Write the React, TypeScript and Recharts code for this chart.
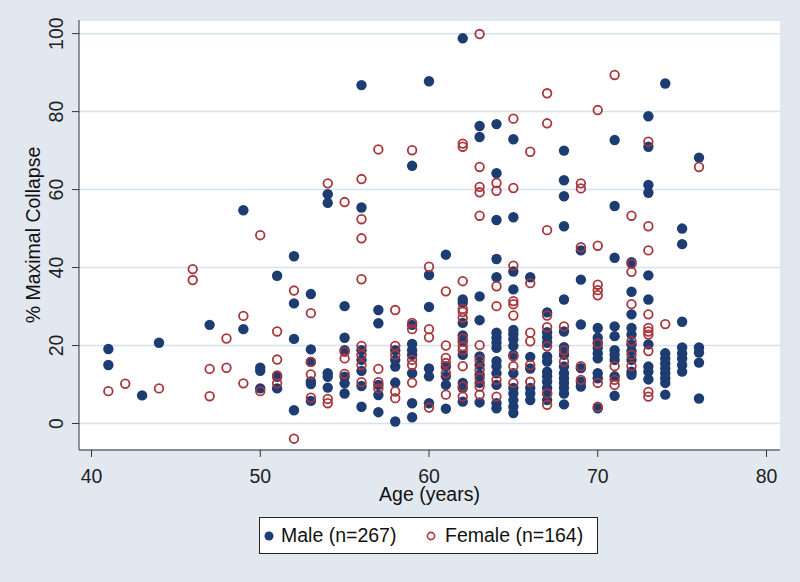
import React from 'react';
import { ScatterChart, Scatter, XAxis, YAxis, CartesianGrid, Legend } from 'recharts';

// % maximal collapse by age, one row per age
const maleByAge: [number, number[]][] = [
  [41, [19.1, 15.0]],
  [43, [7.2]],
  [44, [20.7]],
  [47, [25.3]],
  [49, [54.7, 24.2]],
  [50, [14.3, 13.5, 9.0]],
  [51, [37.9, 12.0, 9.0]],
  [52, [42.9, 30.8, 21.7, 3.4]],
  [53, [33.2, 19.0, 15.8, 10.8, 10.1, 5.8]],
  [54, [58.8, 56.6, 12.9, 12.0, 9.2]],
  [55, [30.1, 22.0, 18.8, 12.0, 10.3, 7.7]],
  [56, [86.8, 55.4, 18.8, 16.3, 13.5, 9.6, 4.3]],
  [57, [29.1, 25.7, 9.9, 7.3, 2.9]],
  [58, [18.8, 16.3, 14.6, 10.5, 0.5]],
  [59, [66.1, 25.3, 20.4, 18.8, 17.6, 12.9, 5.2, 1.6]],
  [60, [87.8, 38.1, 29.9, 14.1, 12.1, 5.2]],
  [61, [43.3, 14.6, 12.1, 9.9, 3.8]],
  [62, [98.8, 31.8, 31.0, 25.8, 22.6, 21.1, 17.6, 10.4, 9.1, 5.6]],
  [63, [76.3, 73.5, 32.6, 26.5, 17.2, 15.0, 12.5, 10.4, 5.4]],
  [64, [76.8, 64.2, 52.2, 42.2, 37.5, 23.3, 22.0, 20.7, 19.4, 16.0, 14.7, 12.9, 9.9, 5.2, 3.9]],
  [65, [72.9, 52.9, 39.0, 34.4, 24.0, 22.9, 21.6, 19.9, 17.6, 12.9, 9.1, 7.7, 6.0, 4.3, 2.7]],
  [66, [37.5, 17.1, 14.1, 9.1, 7.7, 6.0]],
  [67, [28.5, 23.4, 22.1, 20.7, 17.2, 15.9, 13.3, 12.1, 10.7, 9.1, 7.7, 6.0]],
  [68, [70.0, 62.4, 58.3, 50.6, 31.8, 23.6, 19.6, 17.6, 14.6, 12.9, 11.6, 10.4, 9.1, 7.7, 4.9]],
  [69, [44.4, 36.9, 25.4, 14.2, 10.7, 9.5]],
  [70, [24.5, 22.0, 20.7, 19.4, 18.0, 16.7, 12.9, 11.6, 3.9]],
  [71, [72.7, 55.8, 42.5, 24.9, 22.4, 18.8, 17.6, 16.3, 12.1, 7.1]],
  [72, [41.4, 33.8, 28.0, 24.5, 22.8, 20.3, 18.6, 16.3, 13.3, 12.5]],
  [73, [78.8, 71.0, 61.2, 59.2, 38.0, 31.8, 20.3, 14.6, 13.3, 11.3]],
  [74, [87.2, 18.0, 16.7, 15.4, 14.1, 12.9, 11.6, 10.4, 7.4]],
  [75, [50.0, 46.0, 26.1, 19.5, 18.0, 16.7, 15.0, 13.3]],
  [76, [68.2, 19.5, 18.2, 15.6, 6.4]],
];

const femaleByAge: [number, number[]][] = [
  [41, [8.3]],
  [42, [10.2]],
  [44, [9.0]],
  [46, [39.6, 36.8]],
  [47, [14.0, 7.0]],
  [48, [21.8, 14.3]],
  [49, [27.6, 10.3]],
  [50, [48.3, 8.3]],
  [51, [23.6, 16.4, 12.3, 10.3]],
  [52, [34.1, -3.9]],
  [53, [28.3, 15.8, 12.6, 6.6]],
  [54, [61.6, 6.3, 5.2]],
  [55, [56.8, 18.4, 16.7, 12.7]],
  [56, [62.7, 52.4, 47.5, 37.0, 19.9, 17.6, 15.0, 10.6]],
  [57, [70.3, 14.0, 10.6, 9.0]],
  [58, [29.1, 19.9, 17.6, 8.2, 6.5]],
  [59, [70.1, 25.8, 24.2, 16.3, 15.0, 10.5]],
  [60, [40.2, 24.2, 22.1, 4.1]],
  [61, [33.9, 20.0, 16.8, 15.5, 12.9, 7.4]],
  [62, [71.8, 71.0, 36.5, 29.4, 28.6, 27.1, 21.8, 19.8, 18.8, 14.7, 9.5, 6.9]],
  [63, [99.9, 65.8, 60.7, 59.3, 53.3, 20.1, 16.3, 13.8, 11.6, 9.5, 7.4]],
  [64, [61.7, 59.7, 35.2, 30.1, 11.2, 6.9]],
  [65, [78.2, 60.4, 40.5, 31.4, 30.6, 27.7, 17.2, 14.7, 10.4]],
  [66, [69.7, 36.0, 23.3, 21.1, 15.0, 10.7]],
  [67, [84.7, 77.0, 49.6, 27.7, 24.7, 19.8, 7.7, 4.8]],
  [68, [24.9, 18.8, 15.9]],
  [69, [61.6, 60.3, 45.2, 14.7, 11.2]],
  [70, [80.4, 45.6, 35.6, 34.2, 32.9, 20.5, 10.4, 4.3]],
  [71, [89.4, 14.7, 11.2, 9.9]],
  [72, [53.3, 41.0, 38.9, 30.6, 21.1, 17.6, 14.7]],
  [73, [72.3, 50.6, 44.4, 28.0, 24.5, 23.6, 22.8, 18.6, 8.1, 6.9]],
  [74, [25.5]],
  [76, [65.8]],
];

const xTicks = [40, 50, 60, 70, 80];
const yTicks = [0, 20, 40, 60, 80, 100];

const NAVY = '#1c3c72';
const MAROON = '#a8363b';
const BG = '#e2e8f0';
const FONT = '"Liberation Sans", Arial, sans-serif';

const flatten = (rows: [number, number[]][]) =>
  rows.flatMap(([age, vals]) => vals.map((pct) => ({ age, pct })));

const malePts = flatten(maleByAge);
const femalePts = flatten(femaleByAge);

const XTick = (props: any) => (
  <text x={props.x} y={props.y + 24} textAnchor="middle" fontSize={19.5} fill="#222" fontFamily={FONT}>
    {props.payload.value}
  </text>
);

const YTick = (props: any) => (
  <text
    transform={`translate(63,${props.y}) rotate(-90)`}
    textAnchor="middle"
    fontSize={19.5}
    fill="#222"
    fontFamily={FONT}
  >
    {props.payload.value}
  </text>
);

// titles ignore the props recharts passes in and sit at fixed spots
const XTitle = () => (
  <text x={429.5} y={501} textAnchor="middle" fontSize={19.5} fill="#111" fontFamily={FONT}>
    Age (years)
  </text>
);

const YTitle = () => (
  <text
    transform="translate(40,235) rotate(-90)"
    textAnchor="middle"
    fontSize={19.5}
    fill="#111"
    fontFamily={FONT}
  >
    % Maximal Collapse
  </text>
);

const LegendBox = () => (
  <div
    style={{
      width: 339,
      height: 37,
      boxSizing: 'border-box',
      border: '1px solid #222',
      background: '#fff',
      position: 'relative',
      fontFamily: FONT,
      fontSize: 19.5,
      color: '#111',
    }}
  >
    <svg width={12} height={12} style={{ position: 'absolute', left: 3, top: 12 }}>
      <circle cx={6} cy={6} r={4.5} fill={NAVY} />
    </svg>
    <span style={{ position: 'absolute', left: 21, top: 6 }}>Male (n=267)</span>
    <svg width={12} height={12} style={{ position: 'absolute', left: 165, top: 12 }}>
      <circle cx={6} cy={6} r={3.6} fill="none" stroke={MAROON} strokeWidth={1.6} />
    </svg>
    <span style={{ position: 'absolute', left: 185, top: 6 }}>Female (n=164)</span>
  </div>
);

export default function App() {
  return (
    <div style={{ position: 'fixed', left: 0, top: 0, width: 800, height: 582, background: BG }}>
      <ScatterChart width={800} height={582} margin={{ top: 20, right: 20, bottom: 92, left: 19 }}>
        <CartesianGrid vertical={false} fill="#ffffff" stroke="#d8e2ee" strokeWidth={1.5} />
        <XAxis
          type="number"
          dataKey="age"
          domain={[39.26, 80.8]}
          ticks={xTicks}
          allowDataOverflow
          height={40}
          tickSize={7}
          stroke="#333"
          tick={<XTick />}
          label={<XTitle />}
        />
        <YAxis
          type="number"
          dataKey="pct"
          domain={[-6.8, 103.5]}
          ticks={yTicks}
          allowDataOverflow
          width={60}
          tickSize={7}
          stroke="#333"
          tick={<YTick />}
          label={<YTitle />}
        />
        <Legend
          layout="horizontal"
          verticalAlign="middle"
          align="center"
          content={<LegendBox />}
          wrapperStyle={{ left: 259, top: 517, width: 339, height: 37 }}
        />
        <Scatter
          name="Male (n=267)"
          data={malePts}
          isAnimationActive={false}
          shape={(p: any) => <circle cx={p.cx} cy={p.cy} r={5.2} fill={NAVY} />}
        />
        <Scatter
          name="Female (n=164)"
          data={femalePts}
          isAnimationActive={false}
          shape={(p: any) => (
            <circle cx={p.cx} cy={p.cy} r={4.3} fill="none" stroke={MAROON} strokeWidth={1.8} />
          )}
        />
      </ScatterChart>
    </div>
  );
}
